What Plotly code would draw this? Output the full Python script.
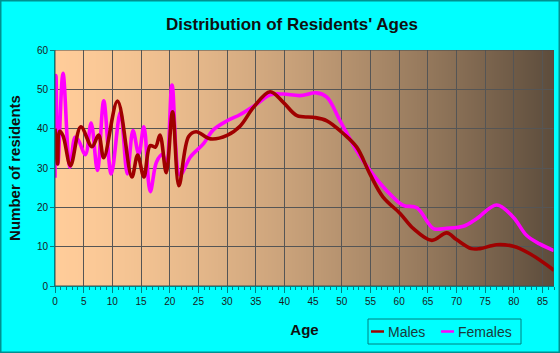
import base64
import struct
import zlib
import plotly.graph_objects as go

# ---- data ----
male_age = [0, 0.45, 0.8, 1.4, 2.7, 4.5, 6.45, 7.6, 8.5, 10.9, 13.4, 14.4, 15.5, 16.6, 17.5,
            18.3, 19.4, 20.5, 21.6, 23.3, 24.6, 27.1, 30, 32.3, 34.6, 37.5, 39.8, 42.2, 45,
            47.4, 50.3, 52.6, 54.9, 57.2, 60.2, 62.5, 65.7, 68.3, 70, 72.6, 74.1, 77, 79.9,
            82.8, 87]
male_val = [40, 31, 39.3, 38.2, 30.6, 40.5, 35.4, 38.4, 32.6, 47, 27.7, 33.3, 27.7, 35.7, 35.3,
            38.4, 28.8, 44.3, 25.5, 38, 39.2, 37.4, 38.3, 40.7, 45.4, 49.4, 46.7, 43.3, 42.9,
            42, 38.7, 35.3, 28.5, 22.6, 18.4, 14.6, 11.6, 13.5, 11.8, 9.5, 9.5, 10.5, 10.1,
            8.2, 4]

female_age = [0, 0.17, 0.5, 1.4, 2.6, 3.5, 4.1, 5.3, 6.3, 7.4, 8.5, 9.8, 11.4, 12.6, 13.6,
              14.6, 15.5, 16.6, 17.7, 18.7, 19.4, 20.4, 21.8, 23.6, 25.9, 27.6, 30, 32.3,
              35.2, 37.5, 39.8, 42.7, 45.6, 47.4, 49.7, 52.6, 54.9, 57.8, 60.7, 63.1, 66,
              68.3, 71.2, 73.5, 77, 79.9, 82.2, 84.5, 87]
female_val = [27.5, 53.5, 31, 54.1, 30.2, 37.8, 37, 33.4, 41.4, 29.4, 47.1, 28.5, 44.2, 28.5,
              39.5, 33.6, 40.5, 24, 31.5, 33.4, 31.5, 51.1, 28.2, 32.8, 36.2, 39.7, 42, 43.6,
              46.3, 48.6, 48.8, 48.4, 49.1, 48, 42, 34.4, 29.4, 24.3, 20.5, 19.9, 14.6, 14.7,
              15.2, 17.1, 20.6, 17.5, 12.9, 10.7, 9]

x_ticks = list(range(0, 90, 5))
y_ticks = list(range(0, 70, 10))

# ---- layout constants ----
W, H = 560, 353
ML, MR, MT, MB = 55, 6, 50, 67
XMAX, YMAX = 87, 60
FONT = "Liberation Sans, Arial, sans-serif"
MALE_C, FEMALE_C = "#A00000", "#FF00FF"


def gradient_png(n=500):
    c0 = (255, 204, 153)
    c1 = (92, 76, 60)
    row = bytearray([0])
    for i in range(n):
        tt = ((i + 0.5) / n) ** 1.45
        row += bytes(int(round(c0[k] + (c1[k] - c0[k]) * tt)) for k in range(3))
    raw = bytes(row) * 2

    def chunk(tag, data):
        c = tag + data
        return struct.pack(">I", len(data)) + c + struct.pack(">I", zlib.crc32(c) & 0xFFFFFFFF)

    png = b"\x89PNG\r\n\x1a\n" + chunk(b"IHDR", struct.pack(">IIBBBBB", n, 2, 8, 2, 0, 0, 0))
    png += chunk(b"IDAT", zlib.compress(raw)) + chunk(b"IEND", b"")
    return "data:image/png;base64," + base64.b64encode(png).decode()


fig = go.Figure()
fig.add_trace(go.Scatter(x=female_age, y=female_val, mode="lines", name="Females",
                         showlegend=False,
                         line=dict(color=FEMALE_C, width=3.6, shape="spline", smoothing=1.0)))
fig.add_trace(go.Scatter(x=male_age, y=male_val, mode="lines", name="Males",
                         showlegend=False,
                         line=dict(color=MALE_C, width=3.6, shape="spline", smoothing=1.0)))

pw, ph = W - ML - MR, H - MT - MB


def px2paper_x(px):
    return (px - ML) / pw


def px2paper_y(py):
    return (H - MB - py) / ph


shapes = [
    # plot frame
    dict(type="rect", xref="x", yref="y", layer="above", x0=0, x1=XMAX, y0=0, y1=YMAX,
         line=dict(color="#4a4a4a", width=1)),
    # figure border
    dict(type="rect", xref="paper", yref="paper", layer="above",
         x0=px2paper_x(0.75), x1=px2paper_x(W - 0.75), y0=px2paper_y(H - 0.75), y1=px2paper_y(0.75),
         line=dict(color="#009090", width=1.5)),
    # legend box
    dict(type="rect", xref="paper", yref="paper", layer="above",
         x0=px2paper_x(368), x1=px2paper_x(521), y0=px2paper_y(344), y1=px2paper_y(319),
         line=dict(color="#008080", width=1)),
    # legend swatches
    dict(type="line", xref="paper", yref="paper", x0=px2paper_x(371), x1=px2paper_x(384),
         y0=px2paper_y(331.5), y1=px2paper_y(331.5), line=dict(color=MALE_C, width=2.5)),
    dict(type="line", xref="paper", yref="paper", x0=px2paper_x(441), x1=px2paper_x(454),
         y0=px2paper_y(331.5), y1=px2paper_y(331.5), line=dict(color=FEMALE_C, width=2.5)),
]

annotations = [
    dict(text="Males", xref="paper", yref="paper", x=px2paper_x(386), y=px2paper_y(331.5),
         xanchor="left", yanchor="middle", showarrow=False,
         font=dict(size=14, color="#1a3a3a", family=FONT)),
    dict(text="Females", xref="paper", yref="paper", x=px2paper_x(456), y=px2paper_y(331.5),
         xanchor="left", yanchor="middle", showarrow=False,
         font=dict(size=14, color="#1a3a3a", family=FONT)),
]

fig.update_layout(
    width=W, height=H,
    margin=dict(l=ML, r=MR, t=MT, b=MB, autoexpand=False),
    paper_bgcolor="#00FFFF", plot_bgcolor="rgba(0,0,0,0)",
    font=dict(family=FONT, color="#1a1a1a"),
    title=dict(text="<b>Distribution of Residents' Ages</b>", x=px2paper_x(292), xanchor="center",
               xref="paper", y=1 - 24 / H, yanchor="middle", font=dict(size=17, color="#111")),
    shapes=shapes,
    annotations=annotations,
    images=[dict(source=gradient_png(), xref="x", yref="y", x=0, y=YMAX, sizex=XMAX, sizey=YMAX,
                 sizing="stretch", layer="below", xanchor="left", yanchor="top")],
    showlegend=False,
)
fig.update_xaxes(range=[0, XMAX], tickvals=x_ticks, ticktext=[str(v) for v in x_ticks],
                 showgrid=True, gridcolor="#555555", gridwidth=1, zeroline=False,
                 showline=True, linecolor="#008080", linewidth=1,
                 ticks="outside", ticklen=6, tickcolor="#008080",
                 minor=dict(dtick=1, ticks="outside", ticklen=3, tickcolor="#008080", showgrid=False),
                 tickfont=dict(size=10, color="#1a1a1a"),
                 title=dict(text="<b>Age</b>", font=dict(size=15, color="#111"), standoff=18))
fig.update_yaxes(range=[0, YMAX], tickvals=y_ticks, showgrid=True, gridcolor="#555555",
                 gridwidth=1, zeroline=False, showline=True, linecolor="#008080", linewidth=1,
                 ticks="outside", ticklen=4, tickcolor="#008080",
                 tickfont=dict(size=10, color="#1a1a1a"),
                 title=dict(text="<b>Number of residents</b>", font=dict(size=15, color="#111"),
                            standoff=12))

fig.write_html("out.html")
